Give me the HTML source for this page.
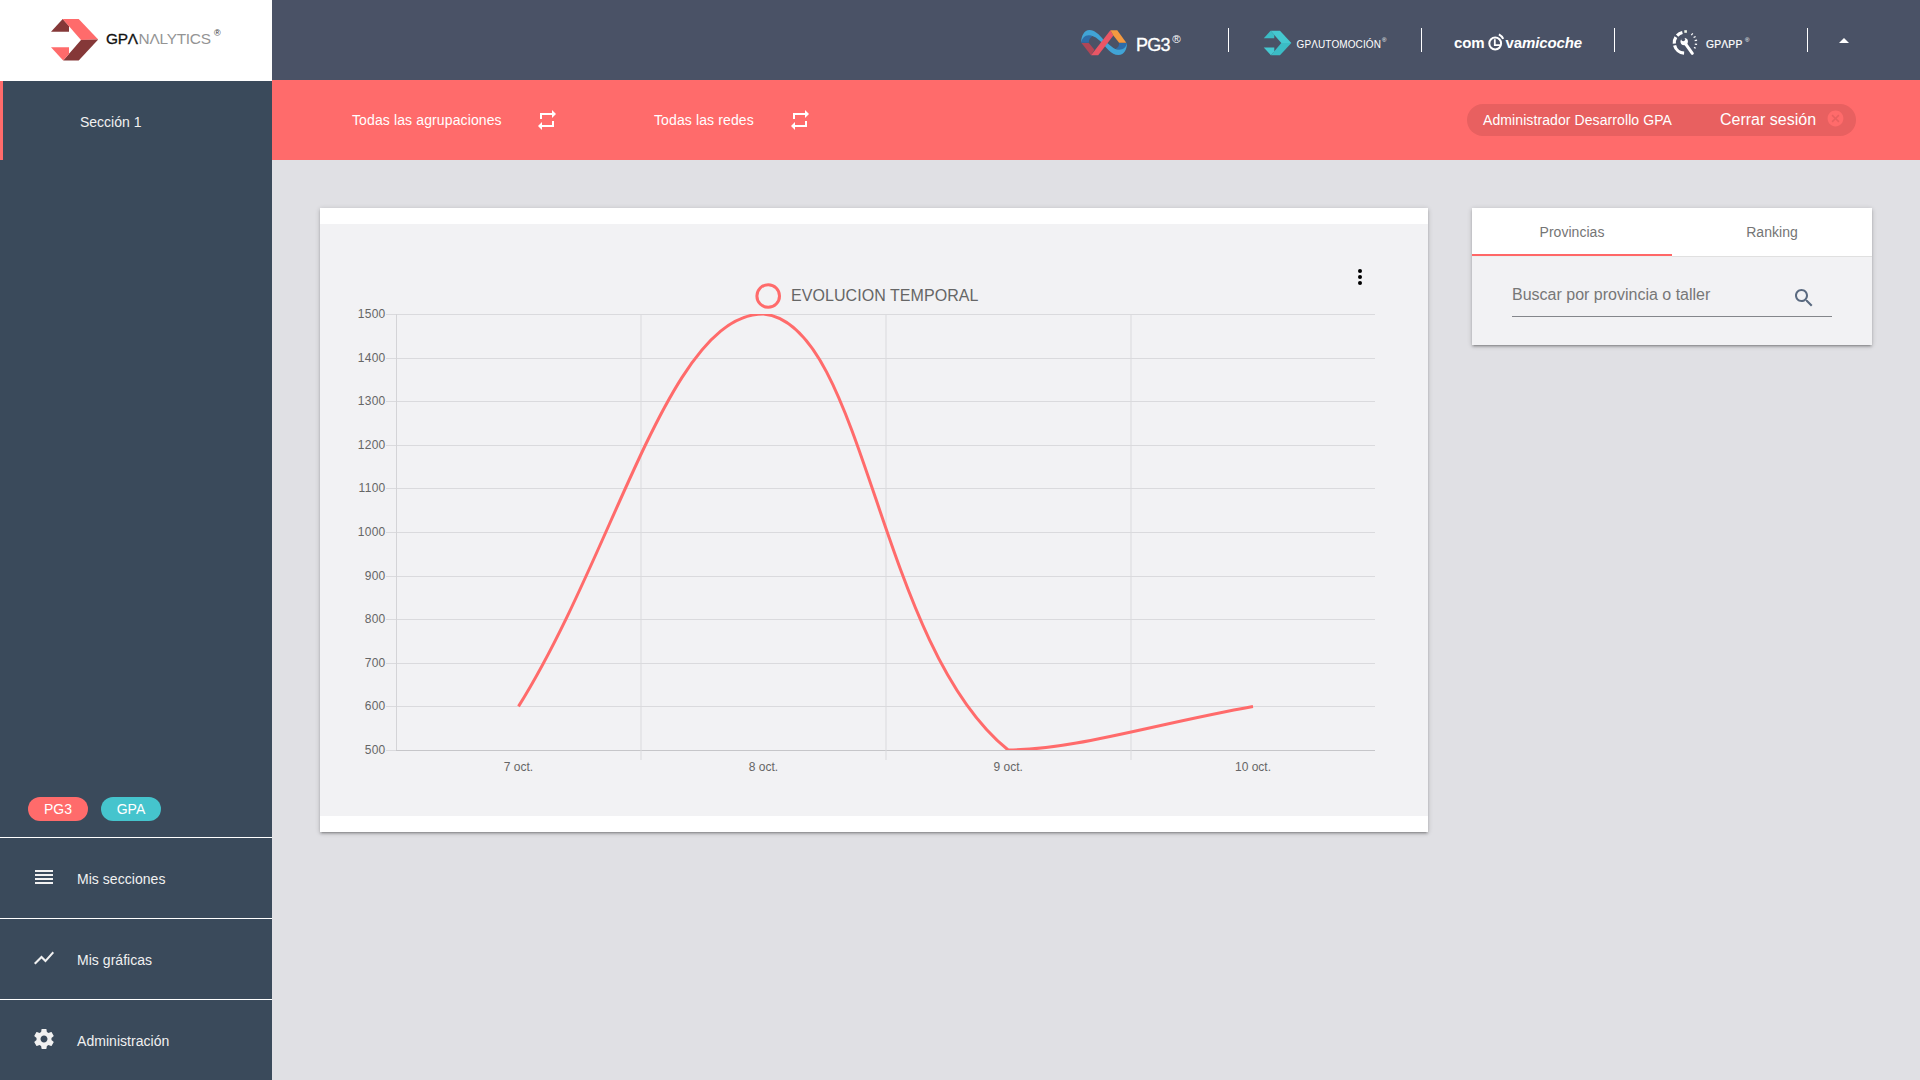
<!DOCTYPE html>
<html lang="es">
<head>
<meta charset="utf-8">
<title>GPAnalytics</title>
<style>
*{box-sizing:border-box;margin:0;padding:0}
html,body{width:1920px;height:1080px;overflow:hidden}
body{position:relative;background:#e0e0e4;font-family:"Liberation Sans",Arial,sans-serif;color:#fff}
.abs{position:absolute}
svg{display:block}
/* sidebar */
#side{position:absolute;left:0;top:0;width:272px;height:1080px;background:#3a4a5b}
#logo{position:absolute;left:0;top:0;width:272px;height:81px;background:#fff}
#logo .t{position:absolute;left:106px;top:29px;font-size:15.4px;line-height:20px;letter-spacing:-.25px;white-space:nowrap;color:#949494}
#logo .t b{font-weight:400;color:#111;-webkit-text-stroke:.3px #111;margin-right:.8px}
#logo .r{position:absolute;left:214px;top:28px;font-size:9px;line-height:10px;color:#333}
#sec{position:absolute;left:0;top:81px;width:272px;height:79px;border-left:3px solid #ff6b6b}
#sec span{position:absolute;left:77px;top:31px;font-size:14px;line-height:20px;color:#f1f1f1;white-space:nowrap}
.chip{position:absolute;top:797px;height:24px;width:60px;border-radius:12px;font-size:14px;line-height:24px;text-align:center;color:#fff}
.hr{position:absolute;left:0;width:272px;height:1px;background:#fff}
.mi{position:absolute;left:0;width:272px;height:80px}
.mi svg{position:absolute;left:32px;top:27px;width:24px;height:24px;fill:#f1f1f1}
.mi span{position:absolute;left:77px;top:31px;font-size:14px;letter-spacing:.04px;line-height:20px;color:#f1f1f1;white-space:nowrap}
/* top */
#top{position:absolute;left:272px;top:0;width:1648px;height:80px;background:#4a5266}
.vd{position:absolute;top:28px;width:1px;height:24px;background:#fff}
#bar{position:absolute;left:272px;top:80px;width:1648px;height:80px;background:#ff6b6b}
#bar .l{position:absolute;top:30px;font-size:14px;letter-spacing:.12px;line-height:20px;white-space:nowrap;color:#fff}
#bar svg.rp{position:absolute;top:28px;width:24px;height:24px;fill:#fff}
#user{position:absolute;left:1195px;top:24px;width:389px;height:32px;border-radius:16px;background:#e86060}
#user .a{position:absolute;left:16px;top:6px;font-size:14px;letter-spacing:.09px;line-height:20px;white-space:nowrap}
#user .b{position:absolute;left:253px;top:6px;font-size:16px;line-height:20px;white-space:nowrap}
/* cards */
.card{position:absolute;background:#fff;box-shadow:0 2px 2px 0 rgba(0,0,0,.14),0 3px 1px -2px rgba(0,0,0,.12),0 1px 5px 0 rgba(0,0,0,.2)}
#chart{left:320px;top:208px;width:1108px;height:624px}
#chart .in{position:absolute;left:0;top:16px;width:1108px;height:592px;background:#f2f2f4}
#rp{left:1472px;top:208px;width:400px;height:137px;background:#f2f2f4}
#tabs{position:absolute;left:0;top:0;width:400px;height:49px;background:#fff;border-bottom:1px solid #e0e0e0}
#tabs div{position:absolute;top:0;width:200px;height:48px;text-align:center;font-size:14px;line-height:48px;color:#757575;letter-spacing:.04px}
#ink{position:absolute;left:0;top:46px;width:200px;height:2px;background:#ff6767}
#ink:after{content:"";position:absolute;left:0;top:2px;width:200px;height:1px;background:#ebefef}
#ph{position:absolute;left:40px;top:77px;font-size:16px;line-height:20px;color:#777;white-space:nowrap}
#ul{position:absolute;left:40px;top:108px;width:320px;height:1px;background:#84868b}
</style>
</head>
<body>

<div id="side">
  <div id="logo">
    <svg class="abs" style="left:48px;top:16px" width="54" height="48" viewBox="48 16 54 48">
      <polygon points="51,31.7 62.7,18.9 69,26.1 69,31.7" fill="#853838"/>
      <polygon points="62.7,18.9 78.7,18.9 98.2,39.6 81,39.9" fill="#ff6b6b"/>
      <polygon points="81,39.9 98.2,39.6 78.7,60.5 63.2,60.5" fill="#853838"/>
      <polygon points="51,47.2 69,47.2 69,53.9 63.2,60.5" fill="#ff6b6b"/>
    </svg>
    <div class="t"><b>GPΛ</b>NΛLYTICS</div>
    <div class="r">®</div>
  </div>
  <div id="sec"><span>Sección 1</span></div>
  <div class="chip" style="left:28px;background:#ff6b6b">PG3</div>
  <div class="chip" style="left:101px;background:#45c4cd">GPA</div>
  <div class="hr" style="top:837px"></div>
  <div class="mi" style="top:838px">
    <svg viewBox="0 0 24 24"><path d="M3 15h18v-2H3v2zm0 4h18v-2H3v2zm0-8h18V9H3v2zm0-6v2h18V5H3z"/></svg>
    <span>Mis secciones</span>
  </div>
  <div class="hr" style="top:918px"></div>
  <div class="mi" style="top:919px">
    <svg viewBox="0 0 24 24"><path d="M3.5 18.49l6-6.01 4 4L22 6.920l-1.410-1.410-7.090 7.970-4-4L2 16.990z"/></svg>
    <span>Mis gráficas</span>
  </div>
  <div class="hr" style="top:999px"></div>
  <div class="mi" style="top:1000px">
    <svg viewBox="0 0 24 24"><path d="M19.430 12.980c.04-.32.07-.64.07-.98s-.03-.66-.07-.98l2.110-1.650c.19-.15.24-.42.12-.64l-2-3.460c-.12-.22-.39-.3-.61-.22l-2.490 1c-.52-.4-1.080-.73-1.690-.98l-.38-2.650C14.460 2.180 14.250 2 14 2h-4c-.25 0-.46.18-.49.42l-.38 2.650c-.61.25-1.170.59-1.690.98l-2.490-1c-.23-.09-.49 0-.61.22l-2 3.460c-.13.22-.07.49.12.64l2.110 1.650c-.04.32-.07.65-.07.98s.03.66.07.98l-2.110 1.650c-.19.15-.24.42-.12.640l2 3.460c.12.22.39.3.61.22l2.490-1c.52.4 1.080.73 1.690.98l.38 2.650c.03.24.24.42.49.420h4c.25 0 .46-.18.49-.42l.38-2.650c.61-.25 1.170-.59 1.690-.98l2.490 1c.23.09.49 0 .61-.22l2-3.460c.12-.22.07-.49-.12-.64l-2.110-1.650zM12 15.500c-1.930 0-3.500-1.570-3.500-3.500s1.570-3.500 3.500-3.500 3.500 1.570 3.500 3.500-1.570 3.500-3.500 3.500z"/></svg>
    <span>Administración</span>
  </div>
</div>

<div id="top">
  <!-- PG3 -->
  <svg class="abs" style="left:804px;top:24px" width="120" height="38" viewBox="0 0 1920 608">
    <path fill="#2e6ca8" d="M82,300 L205,300 C205,250 225,215 262,200 L200,170 C130,175 90,230 82,300Z"/>
    <path fill="#2e6ca8" d="M690,305 L815,305 C815,380 780,420 700,427 L638,392 C680,375 692,345 690,305Z"/>
    <path fill="#41a4d6" d="M82,295 C82,200 130,97 215,97 C300,97 370,170 440,250 L415,300 C350,240 290,180 200,180 C140,180 100,230 82,295Z"/>
    <path fill="#41a4d6" d="M415,300 C480,370 560,497 680,497 C775,497 815,400 815,305 C800,375 760,411 690,411 C610,411 530,326 440,250Z"/>
    <polygon fill="#b04656" points="88,305 205,305 295,412 240,498"/>
    <polygon fill="#ea5665" points="240,498 355,498 598,183 550,100"/>
    <polygon fill="#f49a40" points="550,100 660,100 805,298 690,298 598,183"/>
  </svg>
  <div class="abs" style="left:864px;top:33px;font-size:18px;line-height:24px;letter-spacing:-.8px;-webkit-text-stroke:.35px #fff;white-space:nowrap">PG3</div>
  <div class="abs" style="left:900.300px;top:32px;font-size:11.500px;line-height:14px">®</div>
  <!-- GPAutomocion -->
  <svg class="abs" style="left:990.25px;top:29.2px" width="31.600" height="28.300" viewBox="48 16 54 48" preserveAspectRatio="none">
    <g>
      <polygon points="51,31.7 62.7,18.9 69,26.1 69,31.7" fill="#3bbcc5"/>
      <polygon points="62.7,18.9 78.7,18.9 98.2,39.6 81,39.9" fill="#45c8d0"/>
      <polygon points="81,39.9 98.2,39.6 78.7,60.5 63.2,60.5" fill="#3bbcc5"/>
      <polygon points="51,47.200 69,47.200 69,53.9 63.2,60.5" fill="#45c8d0"/>
    </g>
  </svg>
  <div class="abs" style="left:1024.500px;top:38px;font-size:10px;line-height:14px;letter-spacing:.12px;white-space:nowrap">GPΛUTOMOCIÓN</div>
  <div class="abs" style="left:1110px;top:35.500px;font-size:6px;line-height:8px">®</div>
  <!-- comovamicoche -->
  <div class="abs" style="left:1182px;top:33px;font-size:15px;line-height:20px;font-weight:700;letter-spacing:-.12px;white-space:nowrap">com<span style="display:inline-block;width:21px"></span>va<i>micoche</i></div>
  <svg class="abs" style="left:1212px;top:30px" width="24" height="24" viewBox="1484 30 24 24" fill="none" stroke="#fff" stroke-width="2">
    <circle cx="1495.2" cy="43.5" r="5.900"/>
    <path d="M1494.8,39.300 V45.2 H1500.3" stroke-width="1.800"/>
    <path d="M1498.9,34.300 A9.5 9.5 0 0 1 1503.2,38.8"/>
  </svg>
  <!-- GPAPP -->
  <svg class="abs" style="left:1396px;top:28px" width="32" height="30" viewBox="1668 28 32 30">
    <g fill="none" stroke="#fff" stroke-width="3.2">
      <path d="M1682.400,32.5 A10.5 10.5 0 0 0 1677.100,35.600"/>
      <path d="M1675.900,37.1 A10.5 10.5 0 0 0 1674.300,43.700"/>
      <path d="M1674.600,45.300 A10.5 10.5 0 0 0 1684.100,53.200"/>
    </g>
    <rect x="1684.300" y="30.200" width="2.600" height="2.600" fill="#eef3e6"/>
    <g stroke="#fff" stroke-width="1.200">
      <line x1="1691.300" y1="35.100" x2="1692.800" y2="33.300"/>
      <line x1="1693.600" y1="37.600" x2="1695.600" y2="36.400"/>
      <line x1="1694.700" y1="40.700" x2="1697.100" y2="40.200"/>
      <line x1="1694.800" y1="44.100" x2="1697.100" y2="44.400"/>
      <line x1="1694" y1="47.400" x2="1695.700" y2="48.300"/>
    </g>
    <circle cx="1684.200" cy="41.600" r="3.700" fill="#fff"/>
    <circle cx="1683.200" cy="39.300" r="1.900" fill="#4a5266"/>
    <line x1="1685.200" y1="43.300" x2="1692.300" y2="53.300" stroke="#fff" stroke-width="3" stroke-linecap="round"/>
  </svg>
  <div class="abs" style="left:1434px;top:38px;font-size:10.3px;line-height:14px;letter-spacing:.2px;-webkit-text-stroke:.2px #fff;white-space:nowrap">GPΛPP</div>
  <div class="abs" style="left:1473px;top:36px;font-size:6px;line-height:8px">®</div>
  <div class="vd" style="left:956px"></div>
  <div class="vd" style="left:1149px"></div>
  <div class="vd" style="left:1342px"></div>
  <div class="vd" style="left:1535px"></div>
  <svg class="abs" style="left:1566px;top:38px" width="12" height="6" viewBox="0 0 12 6"><polygon points="1,5 6,0 11,5" fill="#fff"/></svg>
</div>

<div id="bar">
  <div class="l" style="left:80px">Todas las agrupaciones</div>
  <svg class="rp" style="left:262.500px" viewBox="0 0 24 24"><path d="M7 7h10v3l4-4-4-4v3H5v6h2V7zm10 10H7v-3l-4 4 4 4v-3h12v-6h-2v4z"/></svg>
  <div class="l" style="left:382px">Todas las redes</div>
  <svg class="rp" style="left:515.500px" viewBox="0 0 24 24"><path d="M7 7h10v3l4-4-4-4v3H5v6h2V7zm10 10H7v-3l-4 4 4 4v-3h12v-6h-2v4z"/></svg>
  <div id="user">
    <span class="a">Administrador Desarrollo GPA</span>
    <span class="b">Cerrar sesión</span>
    <svg class="abs" style="left:359px;top:4.800px" width="19" height="19" viewBox="0 0 24 24"><path fill="#ff6b6b" d="M12 2C6.470 2 2 6.470 2 12s4.470 10 10 10 10-4.470 10-10S17.530 2 12 2zm5 13.590L15.590 17 12 13.410 8.410 17 7 15.590 10.590 12 7 8.410 8.410 7 12 10.590 15.590 7 17 8.410 13.410 12 17 15.590z"/></svg>
  </div>
</div>

<div class="card" id="chart">
  <div class="in"></div>
  <svg class="abs" style="left:0;top:0" width="1108" height="624" viewBox="320 208 1108 624" font-family="Liberation Sans, Arial, sans-serif">
    <g id="grid" stroke="#dadadd" stroke-width="1" shape-rendering="crispEdges">
      <line x1="386" y1="314.5" x2="1375" y2="314.5"/>
      <line x1="386" y1="358.5" x2="1375" y2="358.5"/>
      <line x1="386" y1="401.5" x2="1375" y2="401.5"/>
      <line x1="386" y1="445.5" x2="1375" y2="445.5"/>
      <line x1="386" y1="488.5" x2="1375" y2="488.5"/>
      <line x1="386" y1="532.5" x2="1375" y2="532.5"/>
      <line x1="386" y1="576.5" x2="1375" y2="576.5"/>
      <line x1="386" y1="619.5" x2="1375" y2="619.5"/>
      <line x1="386" y1="663.5" x2="1375" y2="663.5"/>
      <line x1="386" y1="706.5" x2="1375" y2="706.5"/>
      <line x1="386" y1="750.5" x2="396" y2="750.5"/>
      <line x1="396" y1="750.5" x2="1375" y2="750.5" stroke="#c6c6c9"/>
      <line x1="396.5" y1="314" x2="396.5" y2="750" stroke="#d4d4d7"/>
    </g>
    <g id="vgrid" stroke="#dadadd" stroke-width="1">
      <line x1="641" y1="314" x2="641" y2="760"/>
      <line x1="886" y1="314" x2="886" y2="760"/>
      <line x1="1131" y1="314" x2="1131" y2="760"/>
    </g>
    <g font-size="12" fill="#666">
      <text x="385.6" y="318.1" text-anchor="end" letter-spacing=".3">1500</text>
      <text x="385.6" y="362.1" text-anchor="end" letter-spacing=".3">1400</text>
      <text x="385.6" y="405.1" text-anchor="end" letter-spacing=".3">1300</text>
      <text x="385.6" y="449.1" text-anchor="end" letter-spacing=".3">1200</text>
      <text x="385.6" y="492.1" text-anchor="end" letter-spacing=".3">1100</text>
      <text x="385.6" y="536.1" text-anchor="end" letter-spacing=".3">1000</text>
      <text x="385.6" y="580.1" text-anchor="end" letter-spacing=".3">900</text>
      <text x="385.6" y="623.1" text-anchor="end" letter-spacing=".3">800</text>
      <text x="385.6" y="667.1" text-anchor="end" letter-spacing=".3">700</text>
      <text x="385.6" y="710.1" text-anchor="end" letter-spacing=".3">600</text>
      <text x="385.6" y="754.1" text-anchor="end" letter-spacing=".3">500</text>
      <text x="518.5" y="771.3" text-anchor="middle">7 oct.</text>
      <text x="763.4" y="771.3" text-anchor="middle">8 oct.</text>
      <text x="1008.2" y="771.3" text-anchor="middle">9 oct.</text>
      <text x="1253" y="771.3" text-anchor="middle">10 oct.</text>
    </g>
    <circle cx="768.2" cy="296" r="11.3" fill="none" stroke="#ff6b6b" stroke-width="3"/>
    <text x="791" y="301.1" font-size="16" fill="#666" letter-spacing=".06">EVOLUCION TEMPORAL</text>
    <g fill="#000"><circle cx="1360" cy="271" r="2"/><circle cx="1360" cy="277" r="2"/><circle cx="1360" cy="283" r="2"/></g>
    <clipPath id="ca"><rect x="396" y="314" width="979" height="436"/></clipPath>
    <path d="M518.50,706.40 C616.46,549.44 669.27,314.00 763.40,314.00 C865.15,323.06 877.40,645.17 1008.20,750.00 C1073.24,750.00 1155.08,723.84 1253.00,706.40" fill="none" stroke="#ff6b6b" stroke-width="3" clip-path="url(#ca)"/>
  </svg>
</div>

<div class="card" id="rp">
  <div id="tabs"><div style="left:0">Provincias</div><div style="left:200px">Ranking</div><i id="ink"></i></div>
  <div id="ph">Buscar por provincia o taller</div>
  <div id="ul"></div>
  <svg class="abs" style="left:320px;top:78px" width="24" height="24" viewBox="0 0 24 24"><path fill="#5a6a80" d="M15.500 14h-.79l-.28-.27C15.410 12.590 16 11.110 16 9.500 16 5.910 13.090 3 9.500 3S3 5.910 3 9.500 5.910 16 9.500 16c1.610 0 3.090-.59 4.230-1.570l.27.28v.79l5 4.990L20.490 19l-4.990-5zm-6 0C7.010 14 5 11.990 5 9.500S7.010 5 9.500 5 14 7.010 14 9.500 11.990 14 9.500 14z"/></svg>
</div>

</body>
</html>
